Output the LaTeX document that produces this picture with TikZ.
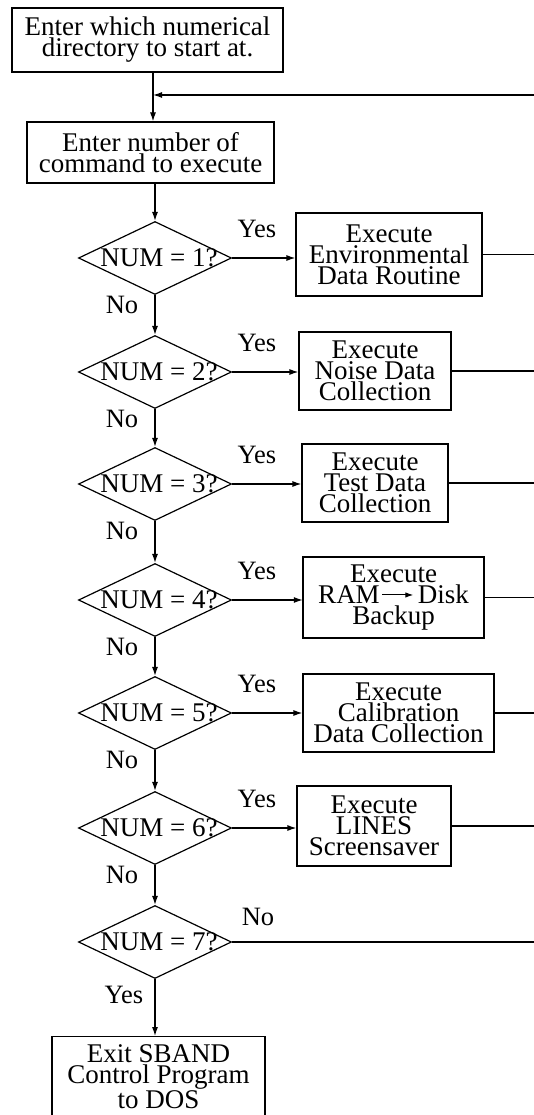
\documentclass[tikz,border=0pt]{standalone}
\usepackage{fontspec}
\setmainfont{Liberation Serif}
\usetikzlibrary{arrows.meta,shapes.geometric}
% small inline arrow used inside the backup box
\newcommand\ramarrow{\tikz[x=1pt,y=1pt,baseline=0pt,line width=1pt]\draw[-{Latex[length=8pt,width=5.5pt]}] (0,8.5) -- (31,8.5);}
\begin{document}
\begin{tikzpicture}[x=1pt,y=-1pt,line width=1.2pt,
  font=\fontsize{27}{21}\selectfont,
  box/.style={draw, rectangle, align=center, inner sep=0pt},
  dec/.style={draw, diamond, minimum width=153pt, minimum height=73pt, inner sep=0pt},
  dtext/.style={font=\fontsize{27}{21}\selectfont, xshift=4pt},
  arr/.style={-{Latex[length=9pt,width=6pt]}},
  lbl/.style={anchor=base, inner sep=0pt, font=\fontsize{26.5}{21}\selectfont},
]
\useasboundingbox (0,0) rectangle (534,1115);
\clip (0,0) rectangle (534,1115);

% start and command entry
\node[box, minimum width=271pt, minimum height=64pt] (top) at (147.5,40)
  {Enter which numerical\\directory to start at.};
\node[box, minimum width=247pt, minimum height=61pt] (cmd) at (150.5,152.5)
  {Enter number of\\command to execute};

% return loop joins the spine here
\coordinate (join) at (153,95);
\coordinate (rtop) at (534,95);
\coordinate (redge) at (534,0);

% decisions
\node[dec, label={[dtext]center:{NUM = 1?}}] (d1) at (155,258) {};
\node[dec, label={[dtext]center:{NUM = 2?}}] (d2) at (155,372) {};
\node[dec, label={[dtext]center:{NUM = 3?}}] (d3) at (155,484) {};
\node[dec, label={[dtext]center:{NUM = 4?}}] (d4) at (155,600) {};
\node[dec, label={[dtext]center:{NUM = 5?}}] (d5) at (155,713) {};
\node[dec, label={[dtext]center:{NUM = 6?}}] (d6) at (155,828) {};
\node[dec, label={[dtext]center:{NUM = 7?}}] (d7) at (155,942) {};

% actions
\node[box, minimum width=186pt, minimum height=83pt] (b1) at (389,254.5)
  {Execute\\Environmental\\Data Routine};
\node[box, minimum width=152pt, minimum height=78pt] (b2) at (375,371)
  {Execute\\Noise Data\\Collection};
\node[box, minimum width=146pt, minimum height=78pt] (b3) at (375,483)
  {Execute\\Test Data\\Collection};
\node[box, minimum width=181pt, minimum height=81pt] (b4) at (393.5,597.5)
  {Execute\\RAM{\kern2pt}\ramarrow{\kern4pt}Disk\\Backup};
\node[box, minimum width=191pt, minimum height=78pt] (b5) at (398.5,713)
  {Execute\\Calibration\\Data Collection};
\node[box, minimum width=154pt, minimum height=80pt] (b6) at (374,826)
  {Execute\\LINES\\Screensaver};
\node[box, minimum width=213pt, inner ysep=8pt, anchor=north] (exit) at (158.5,1036)
  {Exit SBAND\\Control Program\\to DOS};

% branch labels
\foreach \d/\y in {1/258,2/372,3/484,4/600,5/713,6/828}{
  \node[lbl] (yes\d) at (257,\y-21) {Yes};
  \node[lbl] (no\d) at (122,\y+55) {No};
}
\node[lbl] (no7) at (258,925) {No};
\node[lbl] (yes7) at (124,1003) {Yes};

% main spine
\draw[arr] (top.south -| join) -- (cmd.north -| join);
\draw[arr] (rtop) -- (join);
\draw[arr] (cmd.south -| d1) -- (d1.north);
\draw[arr] (d1.south) -- (d2.north);
\draw[arr] (d2.south) -- (d3.north);
\draw[arr] (d3.south) -- (d4.north);
\draw[arr] (d4.south) -- (d5.north);
\draw[arr] (d5.south) -- (d6.north);
\draw[arr] (d6.south) -- (d7.north);
\draw[arr] (d7.south) -- (d7.south |- exit.north);

% yes branches and their returns
\foreach \i in {1,...,6}{
  \draw[arr] (d\i.east) -- (d\i.east -| b\i.west);
  \draw (b\i.east) -- (b\i.east -| redge);
}
\draw (d7.east) -- (d7.east -| redge);
\end{tikzpicture}
\end{document}
